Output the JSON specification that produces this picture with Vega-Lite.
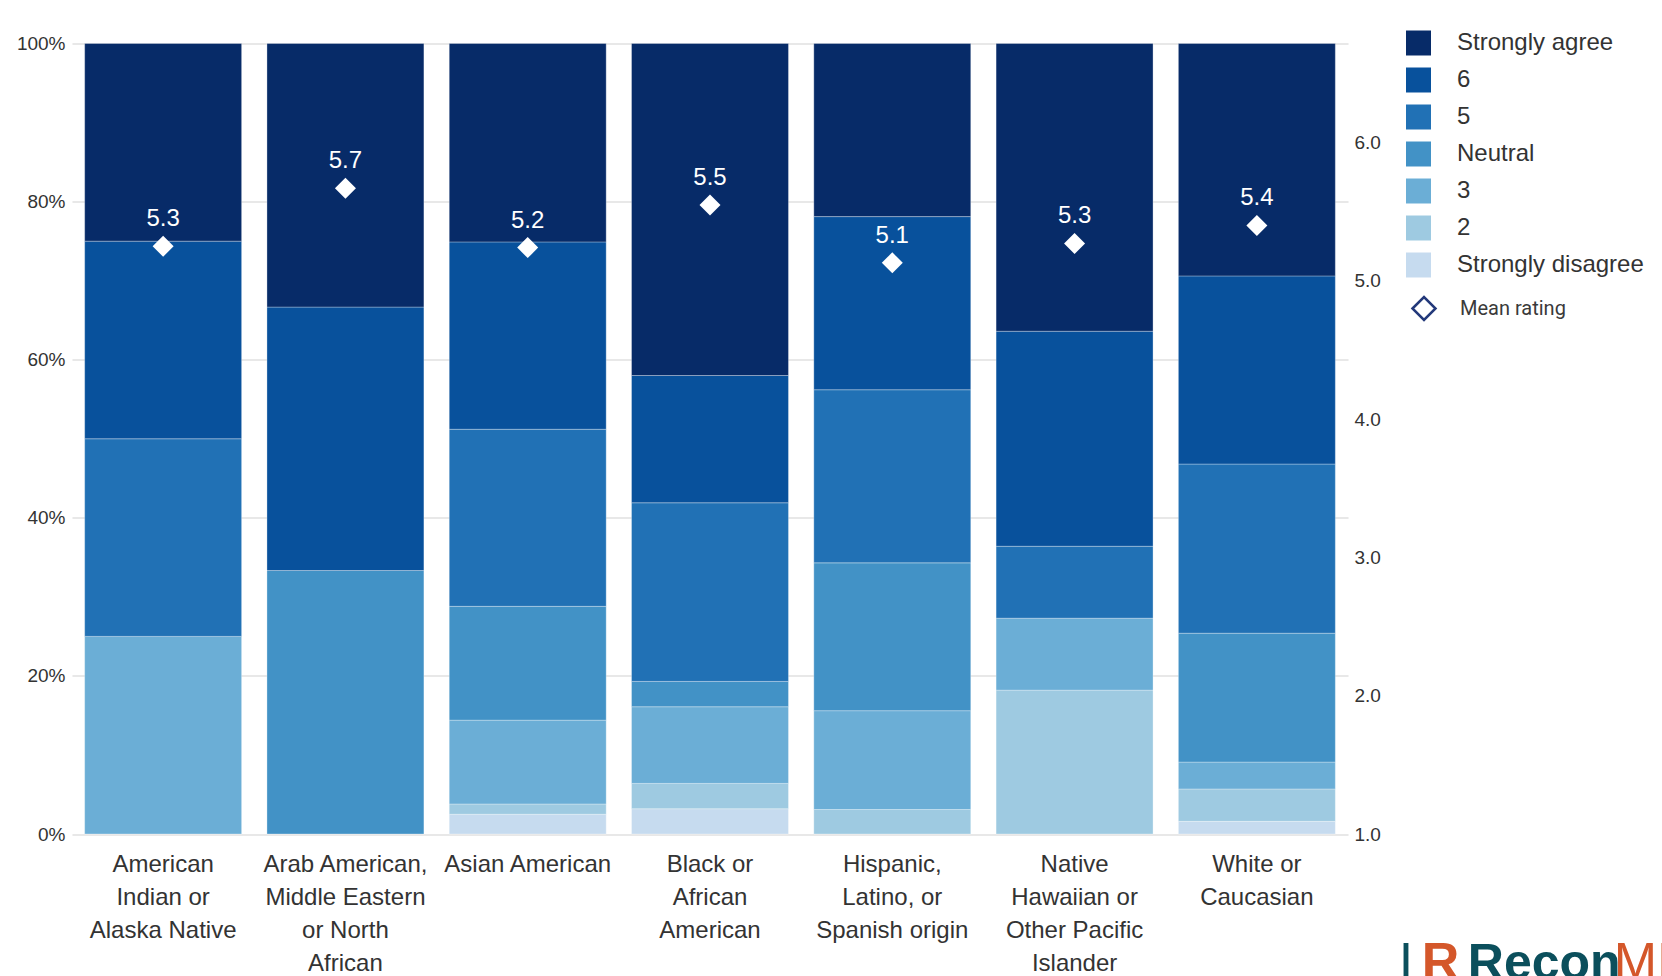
{
  "$schema": "https://vega.github.io/schema/vega-lite/v6.json",
  "width": 1276,
  "height": 790.5,
  "autosize": {"type": "none"},
  "padding": {"left": 72, "top": 43.5, "right": 314, "bottom": 142},
  "background": "white",
  "config": {
    "font": "Liberation Sans",
    "view": {"stroke": null},
    "axis": {
      "labelColor": "#333333",
      "labelFont": "Liberation Sans",
      "domain": false,
      "ticks": false,
      "title": null
    }
  },
  "datasets": {
    "responses": [
      {"group": "American Indian or Alaska Native", "response": "3", "score": 3, "pct": 25},
      {"group": "American Indian or Alaska Native", "response": "5", "score": 5, "pct": 25},
      {"group": "American Indian or Alaska Native", "response": "6", "score": 6, "pct": 25},
      {"group": "American Indian or Alaska Native", "response": "Strongly agree", "score": 7, "pct": 25},

      {"group": "Arab American, Middle Eastern or North African", "response": "Neutral", "score": 4, "pct": 33.33},
      {"group": "Arab American, Middle Eastern or North African", "response": "6", "score": 6, "pct": 33.33},
      {"group": "Arab American, Middle Eastern or North African", "response": "Strongly agree", "score": 7, "pct": 33.34},

      {"group": "Asian American", "response": "Strongly disagree", "score": 1, "pct": 2.5},
      {"group": "Asian American", "response": "2", "score": 2, "pct": 1.3},
      {"group": "Asian American", "response": "3", "score": 3, "pct": 10.6},
      {"group": "Asian American", "response": "Neutral", "score": 4, "pct": 14.4},
      {"group": "Asian American", "response": "5", "score": 5, "pct": 22.4},
      {"group": "Asian American", "response": "6", "score": 6, "pct": 23.7},
      {"group": "Asian American", "response": "Strongly agree", "score": 7, "pct": 25.1},

      {"group": "Black or African American", "response": "Strongly disagree", "score": 1, "pct": 3.2},
      {"group": "Black or African American", "response": "2", "score": 2, "pct": 3.2},
      {"group": "Black or African American", "response": "3", "score": 3, "pct": 9.7},
      {"group": "Black or African American", "response": "Neutral", "score": 4, "pct": 3.2},
      {"group": "Black or African American", "response": "5", "score": 5, "pct": 22.6},
      {"group": "Black or African American", "response": "6", "score": 6, "pct": 16.1},
      {"group": "Black or African American", "response": "Strongly agree", "score": 7, "pct": 42.0},

      {"group": "Hispanic, Latino, or Spanish origin", "response": "2", "score": 2, "pct": 3.1},
      {"group": "Hispanic, Latino, or Spanish origin", "response": "3", "score": 3, "pct": 12.5},
      {"group": "Hispanic, Latino, or Spanish origin", "response": "Neutral", "score": 4, "pct": 18.7},
      {"group": "Hispanic, Latino, or Spanish origin", "response": "5", "score": 5, "pct": 21.9},
      {"group": "Hispanic, Latino, or Spanish origin", "response": "6", "score": 6, "pct": 21.9},
      {"group": "Hispanic, Latino, or Spanish origin", "response": "Strongly agree", "score": 7, "pct": 21.9},

      {"group": "Native Hawaiian or Other Pacific Islander", "response": "2", "score": 2, "pct": 18.2},
      {"group": "Native Hawaiian or Other Pacific Islander", "response": "3", "score": 3, "pct": 9.1},
      {"group": "Native Hawaiian or Other Pacific Islander", "response": "5", "score": 5, "pct": 9.1},
      {"group": "Native Hawaiian or Other Pacific Islander", "response": "6", "score": 6, "pct": 27.2},
      {"group": "Native Hawaiian or Other Pacific Islander", "response": "Strongly agree", "score": 7, "pct": 36.4},

      {"group": "White or Caucasian", "response": "Strongly disagree", "score": 1, "pct": 1.6},
      {"group": "White or Caucasian", "response": "2", "score": 2, "pct": 4.1},
      {"group": "White or Caucasian", "response": "3", "score": 3, "pct": 3.4},
      {"group": "White or Caucasian", "response": "Neutral", "score": 4, "pct": 16.3},
      {"group": "White or Caucasian", "response": "5", "score": 5, "pct": 21.4},
      {"group": "White or Caucasian", "response": "6", "score": 6, "pct": 23.8},
      {"group": "White or Caucasian", "response": "Strongly agree", "score": 7, "pct": 29.4}
    ],
    "means": [
      {"group": "American Indian or Alaska Native", "mean": 5.25},
      {"group": "Arab American, Middle Eastern or North African", "mean": 5.67},
      {"group": "Asian American", "mean": 5.24},
      {"group": "Black or African American", "mean": 5.548},
      {"group": "Hispanic, Latino, or Spanish origin", "mean": 5.13},
      {"group": "Native Hawaiian or Other Pacific Islander", "mean": 5.27},
      {"group": "White or Caucasian", "mean": 5.4}
    ]
  },
  "layer": [
    {
      "data": {"name": "responses"},
      "mark": {"type": "bar", "stroke": "white", "strokeWidth": 1, "strokeOpacity": 0.3},
      "encoding": {
        "x": {
          "field": "group",
          "type": "nominal",
          "sort": null,
          "scale": {"paddingInner": 0.139, "paddingOuter": 0.0695},
          "axis": {
            "labelAngle": 0,
            "labelFontSize": 24,
            "labelLineHeight": 33,
            "labelPadding": 18,
            "labelOverlap": false,
            "labelBound": false,
            "labelLimit": 400,
            "labelExpr": "datum.value == 'American Indian or Alaska Native' ? ['American', 'Indian or', 'Alaska Native'] : datum.value == 'Arab American, Middle Eastern or North African' ? ['Arab American,', 'Middle Eastern', 'or North', 'African'] : datum.value == 'Black or African American' ? ['Black or', 'African', 'American'] : datum.value == 'Hispanic, Latino, or Spanish origin' ? ['Hispanic,', 'Latino, or', 'Spanish origin'] : datum.value == 'Native Hawaiian or Other Pacific Islander' ? ['Native', 'Hawaiian or', 'Other Pacific', 'Islander'] : datum.value == 'White or Caucasian' ? ['White or', 'Caucasian'] : datum.label"
          }
        },
        "y": {
          "field": "pct",
          "type": "quantitative",
          "stack": "normalize",
          "scale": {"domain": [0, 1], "nice": false},
          "axis": {
            "values": [0, 0.2, 0.4, 0.6, 0.8, 1],
            "format": ".0%",
            "labelFontSize": 19,
            "labelPadding": 7,
            "grid": true,
            "gridColor": "#e0e0e0",
            "gridWidth": 1.3
          }
        },
        "color": {
          "field": "response",
          "type": "nominal",
          "scale": {
            "domain": ["Strongly agree", "6", "5", "Neutral", "3", "2", "Strongly disagree"],
            "range": ["#072b68", "#08519c", "#2171b5", "#4292c6", "#6baed6", "#9ecae1", "#c6dbef"]
          },
          "legend": {
            "orient": "none",
            "legendX": 1334,
            "legendY": -13,
            "title": null,
            "padding": 0,
            "symbolType": "square",
            "symbolSize": 625,
            "symbolStrokeWidth": 0,
            "labelFontSize": 24,
            "labelColor": "#333333",
            "labelOffset": 26,
            "rowPadding": 12,
            "labelLimit": 300
          }
        },
        "order": {"field": "score", "type": "quantitative", "sort": "ascending"}
      }
    },
    {
      "layer": [
        {
          "data": {"name": "means"},
          "mark": {"type": "point", "filled": false, "color": "#23397a", "strokeWidth": 2.5, "opacity": 1, "size": 150},
          "encoding": {
            "x": {"field": "group", "type": "nominal", "sort": null},
            "y": {
              "field": "mean",
              "type": "quantitative",
              "scale": {"domain": [1, 6.716], "nice": false, "zero": false},
              "axis": {
                "orient": "right",
                "values": [1, 2, 3, 4, 5, 6],
                "format": ".1f",
                "grid": false,
                "labelFontSize": 19,
                "labelPadding": 6
              }
            },
            "shape": {
              "datum": "Mean rating",
              "scale": {"domain": ["Mean rating"], "range": ["diamond"]},
              "legend": {
                "orient": "none",
                "legendX": 1339,
                "legendY": 252,
                "title": null,
                "padding": 0,
                "symbolType": "diamond",
                "symbolSize": 529,
                "symbolStrokeColor": "#23397a",
                "symbolStrokeWidth": 2.5,
                "symbolOpacity": 1,
                "labelFontSize": 20,
                "labelFont": "Roboto",
                "labelColor": "#3a3a3a",
                "labelOffset": 23
              }
            }
          }
        },
        {
          "data": {"name": "means"},
          "mark": {"type": "point", "shape": "diamond", "filled": true, "fill": "white", "opacity": 1, "size": 441},
          "encoding": {
            "x": {"field": "group", "type": "nominal", "sort": null},
            "y": {"field": "mean", "type": "quantitative"}
          }
        },
        {
          "data": {"name": "means"},
          "mark": {"type": "text", "color": "white", "fontSize": 24, "baseline": "middle", "align": "center", "dy": -27},
          "encoding": {
            "x": {"field": "group", "type": "nominal", "sort": null},
            "y": {"field": "mean", "type": "quantitative"},
            "text": {"field": "mean", "type": "quantitative", "format": ".1f"}
          }
        },
        {
          "data": {"values": [{"brand": "I"}]},
          "mark": {"type": "text", "color": "#0b4f5c", "fontSize": 52, "align": "left", "baseline": "alphabetic", "dx": 142},
          "encoding": {
            "x": {"datum": "White or Caucasian"},
            "y": {"datum": -0.05},
            "text": {"field": "brand"}
          }
        },
        {
          "data": {"values": [{"brand": "R"}]},
          "mark": {"type": "text", "color": "#d4572a", "fontSize": 52, "fontWeight": "bold", "align": "left", "baseline": "alphabetic", "dx": 165},
          "encoding": {
            "x": {"datum": "White or Caucasian"},
            "y": {"datum": -0.05},
            "text": {"field": "brand"}
          }
        },
        {
          "data": {"values": [{"brand": "Recon"}]},
          "mark": {"type": "text", "color": "#0b4f5c", "fontSize": 50, "fontWeight": "bold", "align": "left", "baseline": "alphabetic", "dx": 211},
          "encoding": {
            "x": {"datum": "White or Caucasian"},
            "y": {"datum": -0.05},
            "text": {"field": "brand"}
          }
        },
        {
          "data": {"values": [{"brand": "MR"}]},
          "mark": {"type": "text", "color": "#d4572a", "fontSize": 52, "align": "left", "baseline": "alphabetic", "dx": 357},
          "encoding": {
            "x": {"datum": "White or Caucasian"},
            "y": {"datum": -0.05},
            "text": {"field": "brand"}
          }
        }
      ]
    }
  ],
  "resolve": {"scale": {"y": "independent"}}
}
